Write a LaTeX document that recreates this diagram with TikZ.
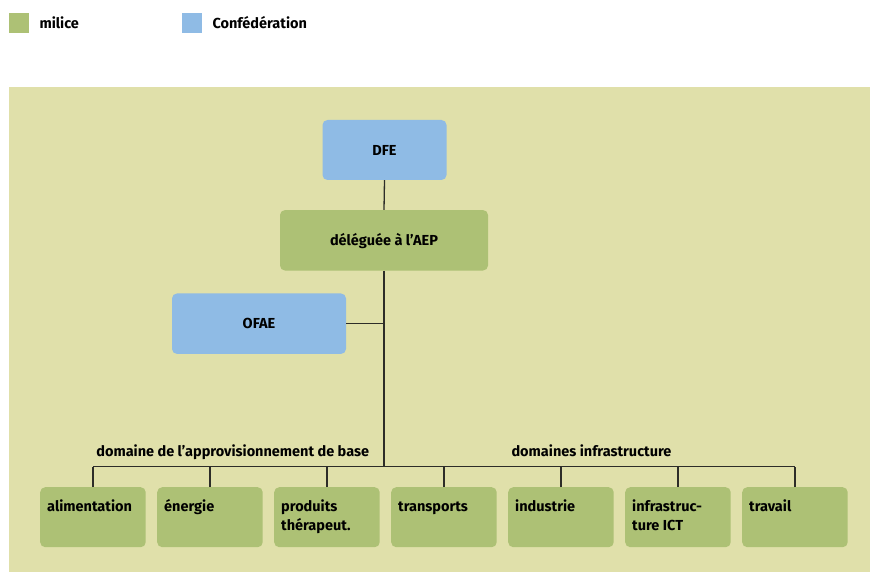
\documentclass[tikz,border=0pt]{standalone}
\usepackage{fontspec}
\setmainfont{Fira Sans}
\definecolor{milgreen}{RGB}{173,193,117}
\definecolor{confblue}{RGB}{143,187,229}
\definecolor{bgyellow}{RGB}{224,224,170}
\definecolor{linegray}{RGB}{45,45,40}
\newcommand\topbox[1]{\parbox[c][60pt][t]{91.5pt}{\raggedright\vspace*{11.4pt}\strut #1}}
\begin{document}
\begin{tikzpicture}[x=1pt,y=-1pt,
  every node/.style={font=\fontsize{14.5}{19}\selectfont\bfseries, text=black},
  legsq/.style={fill=#1, draw=none, minimum size=20pt, inner sep=0pt, anchor=north west},
  cbox/.style={fill=#1, draw=none, rounded corners=5pt, inner sep=0pt, text height=10.5pt, text depth=0pt},
  leafbox/.style={fill=milgreen, draw=none, rounded corners=5pt, inner xsep=7pt, inner ysep=0pt, anchor=north west},
  conn/.style={draw=linegray, line width=1.3pt},
  grouplabel/.style={anchor=base}]
\useasboundingbox (0,0) rectangle (870,572);
\fill[bgyellow] (9,87) rectangle (870,572);
% legend
\node[legsq=milgreen] (lg1) at (9,13) {};
\node[anchor=base west] (lt1) at (36,28.3) {milice};
\node[legsq=confblue] (lg2) at (182,13) {};
\node[anchor=base west] (lt2) at (209,28.3) {Confédération};
% main boxes
\node[cbox=confblue, minimum width=124pt, minimum height=60pt] (dfe) at (384.5,150) {DFE};
\node[cbox=milgreen, minimum width=208pt, minimum height=60.5pt] (del) at (384,240.3) {déléguée à l’AEP};
\node[cbox=confblue, minimum width=174pt, minimum height=60.5pt] (ofae) at (259,323.7) {OFAE};
% leaf boxes
\node[leafbox] (b1) at (40,487) {\topbox{alimentation}};
\node[leafbox] (b2) at (157,487) {\topbox{énergie}};
\node[leafbox] (b3) at (274,487) {\topbox{produits\\thérapeut.}};
\node[leafbox] (b4) at (391,487) {\topbox{transports}};
\node[leafbox] (b5) at (508,487) {\topbox{industrie}};
\node[leafbox] (b6) at (625,487) {\topbox{infrastruc-\\ture ICT}};
\node[leafbox] (b7) at (742,487) {\topbox{travail}};
% group labels
\node[grouplabel] (g1) at (232.7,456) {domaine de l’approvisionnement de base};
\node[grouplabel] (g2) at (591.5,456) {domaines infrastructure};
% connectors
\coordinate (busL) at (b1.north |- 0,466.7);
\coordinate (busR) at (b7.north |- 0,466.7);
\coordinate (hub) at (del.south |- busL);
\coordinate (ojoin) at (del.south |- ofae.east);
\draw[conn] (dfe.south) -- (del.north);
\draw[conn] (del.south) -- (hub);
\draw[conn] (ofae.east) -- (ojoin);
\draw[conn] (busL) -- (busR);
\foreach \b in {b1,b2,b3,b4,b5,b6,b7} {
  \draw[conn] (\b.north) -- (\b.north |- busL);
}
\end{tikzpicture}
\end{document}
